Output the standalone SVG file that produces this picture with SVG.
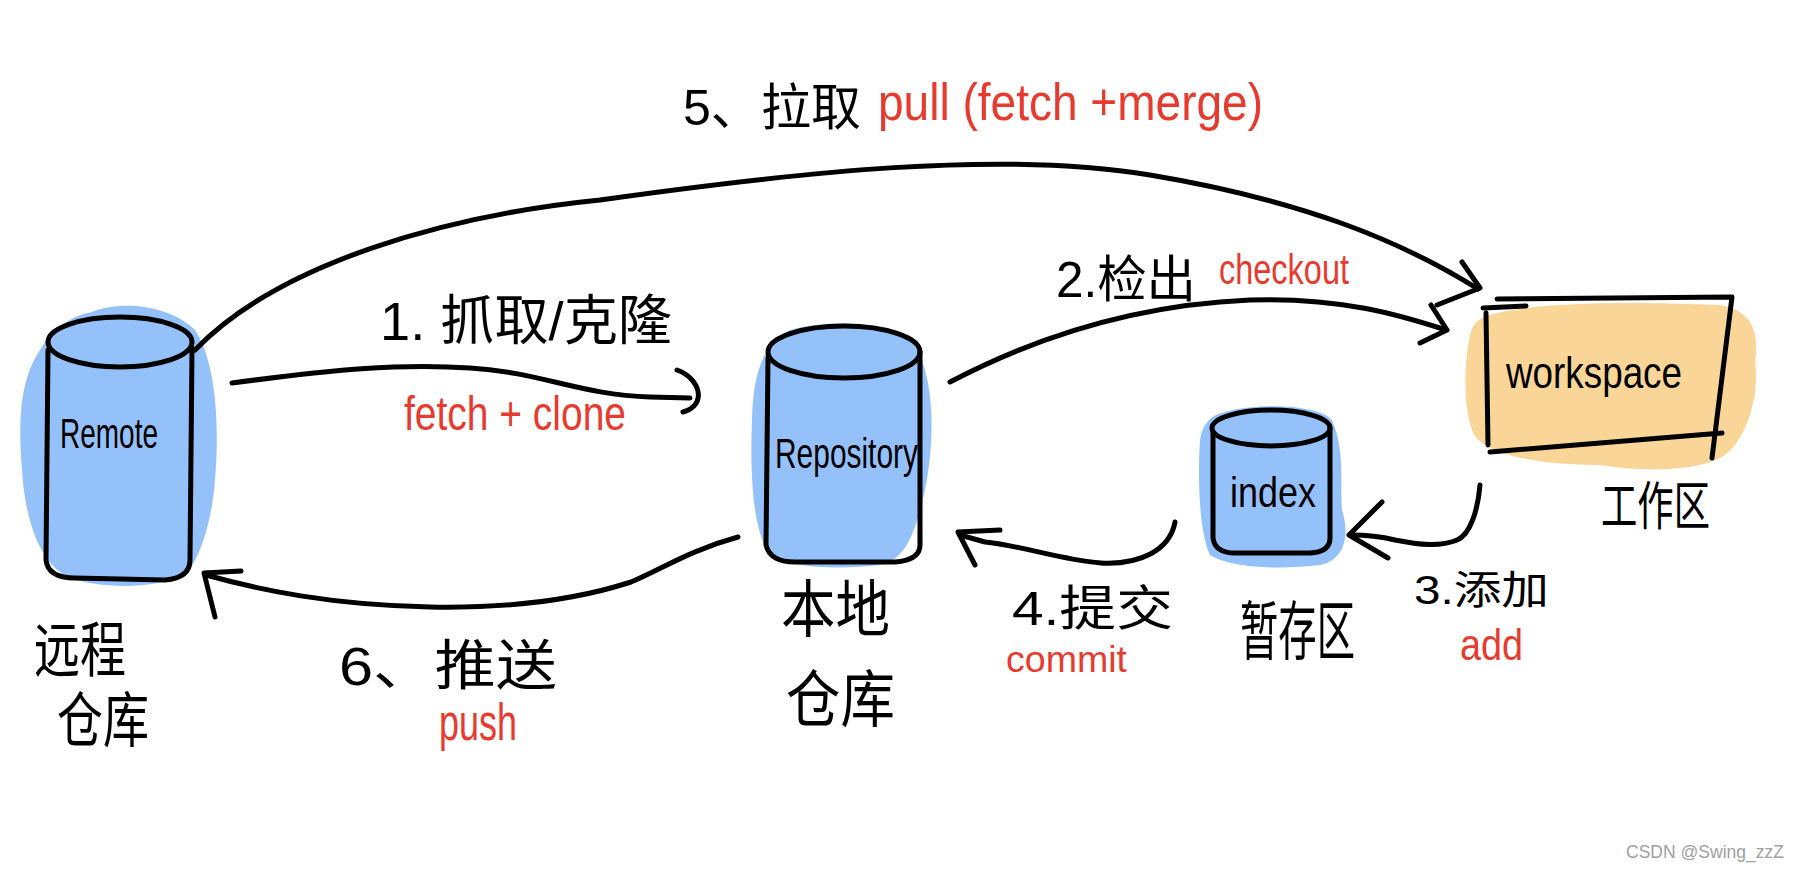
<svg xmlns="http://www.w3.org/2000/svg" width="1800" height="871" viewBox="0 0 1800 871">
<style>
.bg{fill:#ffffff}
.ink{fill:none;stroke:#000;stroke-width:5;stroke-linecap:round;stroke-linejoin:round}
.con{fill:none;stroke:#000;stroke-width:5;stroke-linecap:round;stroke-linejoin:round}
.blue{fill:#94c1fa}
.orange{fill:#f9d698}
.t{font-family:"Liberation Sans","Noto Sans CJK SC",sans-serif;fill:#000}
.r{font-family:"Liberation Sans","Noto Sans CJK SC",sans-serif;fill:#e63b2e}
.wm{font-family:"Liberation Sans",sans-serif;fill:#a0a0a0;font-size:19px}
</style>
<rect class="bg" x="0" y="0" width="1800" height="871"/>

<g id="remote">
  <path class="blue" d="M92,312 C120,300 170,305 195,330 C215,360 220,420 215,480 C212,520 200,560 185,575 C150,590 100,588 70,578 C40,565 25,520 22,470 C18,420 20,380 40,350 C55,325 75,315 92,312 Z"/>
  <ellipse class="ink" cx="120" cy="342" rx="72" ry="25"/>
  <path class="ink" d="M48,350 L46,560 Q48,578 75,578 L165,580 Q190,578 190,560 L192,348"/>
  <text class="t" x="60" y="448" font-size="42" textLength="98" lengthAdjust="spacingAndGlyphs">Remote</text>
  <text class="t" x="34" y="672" font-size="60" textLength="92" lengthAdjust="spacingAndGlyphs">远程</text>
  <text class="t" x="57" y="742" font-size="60" textLength="92" lengthAdjust="spacingAndGlyphs">仓库</text>
</g>

<g id="repository">
  <path class="blue" d="M790,330 C830,318 900,322 915,345 C935,380 935,440 925,490 C915,535 905,560 880,565 C840,570 790,568 770,555 C752,530 750,470 752,420 C753,380 760,345 790,330 Z"/>
  <ellipse class="ink" cx="844" cy="352" rx="76" ry="26"/>
  <path class="ink" d="M768,358 L766,545 Q770,562 795,562 L895,562 Q920,560 920,545 L920,352"/>
  <text class="t" x="775" y="468" font-size="42" textLength="143" lengthAdjust="spacingAndGlyphs">Repository</text>
  <text class="t" x="781" y="632" font-size="62" textLength="109" lengthAdjust="spacingAndGlyphs">本地</text>
  <text class="t" x="786" y="722" font-size="62" textLength="109" lengthAdjust="spacingAndGlyphs">仓库</text>
</g>

<g id="index">
  <path class="blue" d="M1225,412 C1260,402 1320,405 1332,420 C1345,450 1340,480 1342,510 C1350,535 1345,560 1320,565 C1280,570 1230,568 1210,555 C1198,530 1198,470 1200,440 C1202,425 1210,415 1225,412 Z"/>
  <ellipse class="ink" cx="1271" cy="428" rx="59" ry="18"/>
  <path class="ink" d="M1213,432 L1213,538 Q1215,553 1235,553 L1310,553 Q1330,552 1330,538 L1330,428"/>
  <text class="t" x="1230" y="507" font-size="42" textLength="86" lengthAdjust="spacingAndGlyphs">index</text>
  <text class="t" x="1240" y="654" font-size="64" textLength="115" lengthAdjust="spacingAndGlyphs">暂存区</text>
</g>

<g id="workspace">
  <path class="orange" d="M1490,315 C1540,300 1650,302 1720,305 C1750,310 1760,330 1755,360 C1760,400 1745,440 1725,455 C1700,472 1640,472 1600,465 C1540,465 1480,455 1472,430 C1462,400 1465,360 1470,335 C1473,322 1480,318 1490,315 Z"/>
  <path class="ink" d="M1483,308 L1526,306 M1497,299 L1732,297 L1712,458 M1486,313 L1488,445 M1490,452 L1722,433"/>
  <text class="t" x="1506" y="388" font-size="44" textLength="176" lengthAdjust="spacingAndGlyphs">workspace</text>
  <text class="t" x="1601" y="525" font-size="52" textLength="109" lengthAdjust="spacingAndGlyphs">工作区</text>
</g>

<g id="connectors">
  <!-- 5 pull -->
  <path class="con" d="M195,350 C280,262 450,215 600,200 C800,172 1000,150 1150,175 C1300,200 1400,240 1478,289"/>
  <path class="con" d="M1462,262 L1480,288 L1437,305"/>
  <!-- 1 fetch/clone -->
  <path class="con" d="M232,383 C330,370 400,363 470,368 C540,372 580,395 650,397 L690,398"/>
  <path class="con" d="M677,370 C700,378 708,405 683,412"/>
  <!-- 2 checkout -->
  <path class="con" d="M950,382 C1030,340 1130,305 1250,300 C1340,297 1400,315 1446,330"/>
  <path class="con" d="M1431,305 L1447,330 L1420,343"/>
  <!-- 3 add -->
  <path class="con" d="M1480,485 C1478,510 1470,535 1457,540 C1440,547 1420,545 1395,540 C1375,535 1362,535 1350,535"/>
  <path class="con" d="M1382,502 L1349,535 L1388,558"/>
  <!-- 4 commit -->
  <path class="con" d="M1175,522 C1170,550 1140,565 1101,563 C1060,560 1020,545 985,542 L960,535"/>
  <path class="con" d="M1000,530 L958,532 L975,565"/>
  <!-- 6 push -->
  <path class="con" d="M738,537 C690,550 660,570 631,582 C560,605 480,608 430,607 C330,605 260,590 206,575"/>
  <path class="con" d="M241,571 L204,573 L215,617"/>
</g>

<g id="labels">
  <text class="t" x="683" y="125" font-size="50" textLength="178" lengthAdjust="spacingAndGlyphs">5、拉取</text>
  <text class="r" x="878" y="120" font-size="52" textLength="385" lengthAdjust="spacingAndGlyphs">pull (fetch +merge)</text>
  <text class="t" x="380" y="340" font-size="54" textLength="292" lengthAdjust="spacingAndGlyphs">1. 抓取/克隆</text>
  <text class="r" x="404" y="430" font-size="48" textLength="222" lengthAdjust="spacingAndGlyphs">fetch + clone</text>
  <text class="t" x="1056" y="297" font-size="50" textLength="140" lengthAdjust="spacingAndGlyphs">2.检出</text>
  <text class="r" x="1219" y="284" font-size="42" textLength="130" lengthAdjust="spacingAndGlyphs">checkout</text>
  <text class="t" x="1414" y="604" font-size="40" textLength="135" lengthAdjust="spacingAndGlyphs">3.添加</text>
  <text class="r" x="1460" y="660" font-size="44" textLength="63" lengthAdjust="spacingAndGlyphs">add</text>
  <text class="t" x="1012" y="625" font-size="48" textLength="161" lengthAdjust="spacingAndGlyphs">4.提交</text>
  <text class="r" x="1006" y="672" font-size="36" textLength="121" lengthAdjust="spacingAndGlyphs">commit</text>
  <text class="t" x="339" y="685" font-size="54" textLength="218" lengthAdjust="spacingAndGlyphs">6、推送</text>
  <text class="r" x="439" y="740" font-size="52" textLength="78" lengthAdjust="spacingAndGlyphs">push</text>
</g>

<text class="wm" x="1626" y="858" textLength="158" lengthAdjust="spacingAndGlyphs">CSDN @Swing_zzZ</text>
</svg>
